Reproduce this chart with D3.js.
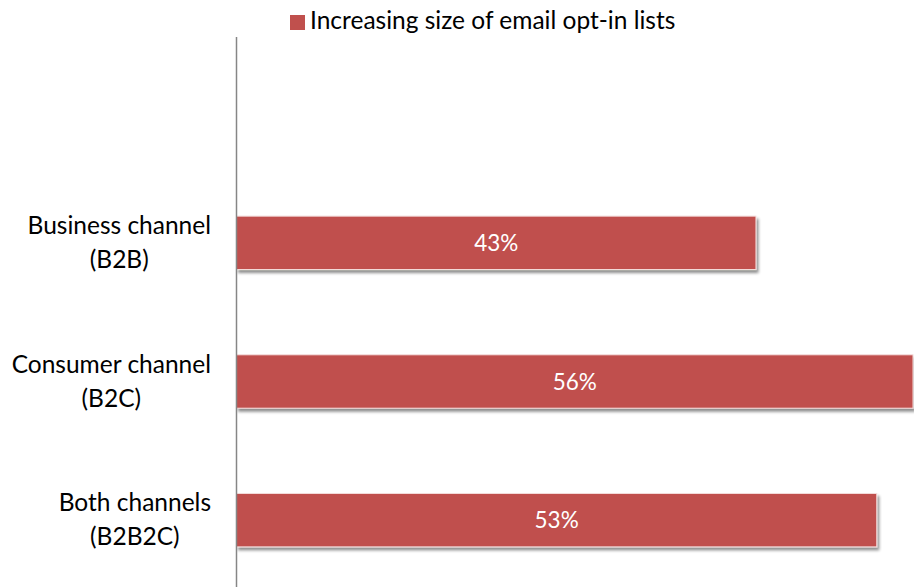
<!DOCTYPE html>
<html><head><meta charset="utf-8">
<script src="https://cdn.jsdelivr.net/npm/d3@7"></script>
<style>
body{margin:0;background:#fff;}
text{font-family:"Lato","Open Sans",sans-serif;}
</style></head>
<body>
<svg id="chart" width="914" height="587"></svg>
<script>
const categories = [["Business channel","(B2B)"],["Consumer channel","(B2C)"],["Both channels","(B2B2C)"]];
const categoryKeys = ["B2B","B2C","B2B2C"];
const values = [43, 56, 53];
const seriesName = "Increasing size of email opt-in lists";

const svg = d3.select("#chart");
const defs = svg.append("defs");
const f = defs.append("filter").attr("id","shadow").attr("x","-10%").attr("y","-20%").attr("width","130%").attr("height","160%");
f.append("feGaussianBlur").attr("in","SourceAlpha").attr("stdDeviation",1.6).attr("result","b");
f.append("feOffset").attr("in","b").attr("dx",2).attr("dy",3).attr("result","o");
f.append("feComponentTransfer").attr("in","o").attr("result","oc").append("feFuncA").attr("type","linear").attr("slope",0.45);
const m = f.append("feMerge"); m.append("feMergeNode").attr("in","oc"); m.append("feMergeNode").attr("in","SourceGraphic");

const x0 = 236.5;
const x = d3.scaleLinear().domain([0, 56]).range([x0, 913]);
const y = d3.scaleBand().domain(categoryKeys).range([173.5, 589.5]).paddingInner(0.615).paddingOuter(0.3075);

// bars
svg.selectAll("rect.bar").data(values).enter().append("rect")
  .attr("class","bar")
  .attr("x", x(0))
  .attr("y", (d,i)=>y(categoryKeys[i]))
  .attr("width", d=>x(d)-x(0))
  .attr("height", y.bandwidth())
  .attr("fill","#C0504D")
  .attr("stroke","#f4dcdb").attr("stroke-width",1)
  .attr("filter","url(#shadow)");

// value labels
svg.selectAll("text.val").data(values).enter().append("text")
  .attr("class","val")
  .attr("x", d=>(x(0)+x(d))/2)
  .attr("y", (d,i)=>y(categoryKeys[i])+y.bandwidth()/2)
  .attr("dy","0.36em")
  .attr("text-anchor","middle")
  .attr("fill","#fff").attr("font-size",22.5)
  .text(d=>d+"%");

// axis line
svg.append("line").attr("x1",x0).attr("x2",x0).attr("y1",37).attr("y2",587)
  .attr("stroke","#868686").attr("stroke-width",1.5);

// category labels: lines centered on each other, block right-aligned near the axis
const labelRight = 211;
categories.forEach((lines,i)=>{
  const cy = y(categoryKeys[i]) + y.bandwidth()/2;
  const t = svg.append("text").attr("text-anchor","middle").attr("font-size",24.5).attr("fill","#000")
    .attr("y", cy-9);
  const spans = lines.map((s,j)=> t.append("tspan").attr("dy", j? 34 : 0).text(s));
  const w = d3.max(spans, sp=>sp.node().getComputedTextLength());
  spans.forEach(sp=>sp.attr("x", labelRight - w/2));
});

// legend
svg.append("rect").attr("x",290).attr("y",15).attr("width",15).attr("height",15).attr("fill","#C0504D");
svg.append("text").attr("x",310).attr("y",29).attr("font-size",24.5).attr("fill","#000").text(seriesName);
</script>
</body></html>
